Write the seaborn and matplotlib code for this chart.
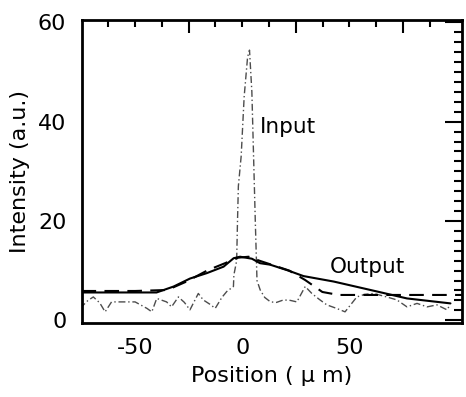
import numpy as np
import pandas as pd
import seaborn as sns
import matplotlib.pyplot as plt

# input beam profile (thin dash-dot line with the sharp peak)
in_x = [-75.7, -72, -69.5, -66.5, -64, -61, -57, -50, -44.5, -42.2, -39.9, -35.3, -33, -29.8,
        -27, -24.4, -20.5, -18.2, -15, -12.6, -9.5, -7.2, -4.1, -3.9, -2.6, -2.2, -1.8, -0.5,
        0.9, 2.5, 3.4, 4.5, 5.3, 6.1, 6.9, 8.4, 10.5, 13.2, 16, 19.3, 22.5, 25.5, 29.4, 32.5,
        36, 39.5, 44, 48, 53.5, 57, 61.3, 67.5, 72.2, 76.9, 81.6, 86.3, 90.9, 95.6, 97]
in_y = [2.4, 4.0, 4.7, 3.5, 1.7, 3.7, 3.7, 3.7, 2.4, 1.7, 4.4, 3.7, 2.7, 4.7,
        3.6, 2.1, 5.4, 4.1, 3.2, 2.4, 4.6, 5.8, 6.8, 9.1, 12, 20, 27, 33,
        45, 53, 54.4, 46, 33, 20, 8, 6.1, 4.6, 3.7, 3.6, 4.1, 4.0, 3.7, 6.8, 5.4,
        4.2, 3.1, 2.4, 1.7, 4.7, 5.2, 5.4, 4.7, 4.1, 2.7, 3.4, 2.7, 3.1, 2.1, 3.1]

# output, measured (solid)
out_x = [-75, -60, -40, -32, -24.4, -16.5, -8.7, -4, -1, 4.5, 8.3, 13, 20.9, 28.6, 42.7, 62.9, 76.9, 97.2]
out_y = [5.6, 5.6, 5.6, 6.8, 8.4, 9.5, 10.8, 12.5, 12.8, 12.4, 11.5, 11.2, 10.1, 8.9, 7.8, 5.8, 4.4, 3.4]

# output, calculated (dashed)
sim_x = [-75, -50, -35, -26, -16, -8, -2, 3, 8, 15, 22, 29.4, 37.4, 45, 70, 102.5]
sim_y = [5.9, 5.9, 6.1, 7.8, 10.1, 11.5, 12.6, 12.8, 12.0, 11.0, 10.0, 8.1, 5.7, 5.1, 5.1, 5.1]

sns.set_style("white")
plt.rcParams["font.family"] = ["DejaVu Sans"]
plt.rcParams["text.color"] = "black"
plt.rcParams["axes.labelcolor"] = "black"
plt.rcParams["xtick.color"] = "black"
plt.rcParams["ytick.color"] = "black"

fig = plt.figure(figsize=(4.66, 3.97), dpi=100)
ax = fig.add_axes([0.175, 0.187, 0.816, 0.763])

sns.lineplot(x=in_x, y=in_y, ax=ax, color="0.3", lw=1.0, sort=False,
             linestyle=(0, (5, 2, 1, 2)))
sns.lineplot(x=out_x, y=out_y, ax=ax, color="black", lw=1.5, sort=False)
sns.lineplot(x=sim_x, y=sim_y, ax=ax, color="black", lw=1.5, sort=False,
             linestyle=(0, (7, 4)))

ax.text(8.4, 39, "Input", fontsize=15.5, va="center", ha="left")
ax.text(41, 10.7, "Output", fontsize=15.5, va="center", ha="left")

ax.set_xlim(-75, 102.5)
ax.set_ylim(-0.5, 60.5)

# long ticks at -25/25/75 without labels, labelled short ticks every 12.5
ax.set_xticks([-25, 25, 75], labels=["", "", ""])
minor_x = [-62.5, -50, -37.5, -12.5, 0, 12.5, 37.5, 50, 62.5, 87.5]
ax.set_xticks(minor_x, labels=["", "-50", "", "", "0", "", "", "50", "", ""], minor=True)
ax.set_yticks([0, 20, 40, 60])
ax.set_yticks(np.arange(0, 61, 2), minor=True)

ax.tick_params(which="both", direction="in", top=True, right=True, width=1.5,
               labelsize=16, pad=11, color="black", labelcolor="black")
ax.tick_params(axis="x", which="major", length=9)
ax.tick_params(axis="x", which="minor", length=5)
ax.tick_params(axis="y", which="major", length=12)
ax.tick_params(axis="y", which="minor", length=6)

for s in ax.spines.values():
    s.set_linewidth(2)
    s.set_color("black")

ax.set_xlabel("Position ( μ m)", fontsize=16, labelpad=6)
ax.set_ylabel("Intensity (a.u.)", fontsize=16, labelpad=6)

plt.savefig("out.png", dpi=100)
